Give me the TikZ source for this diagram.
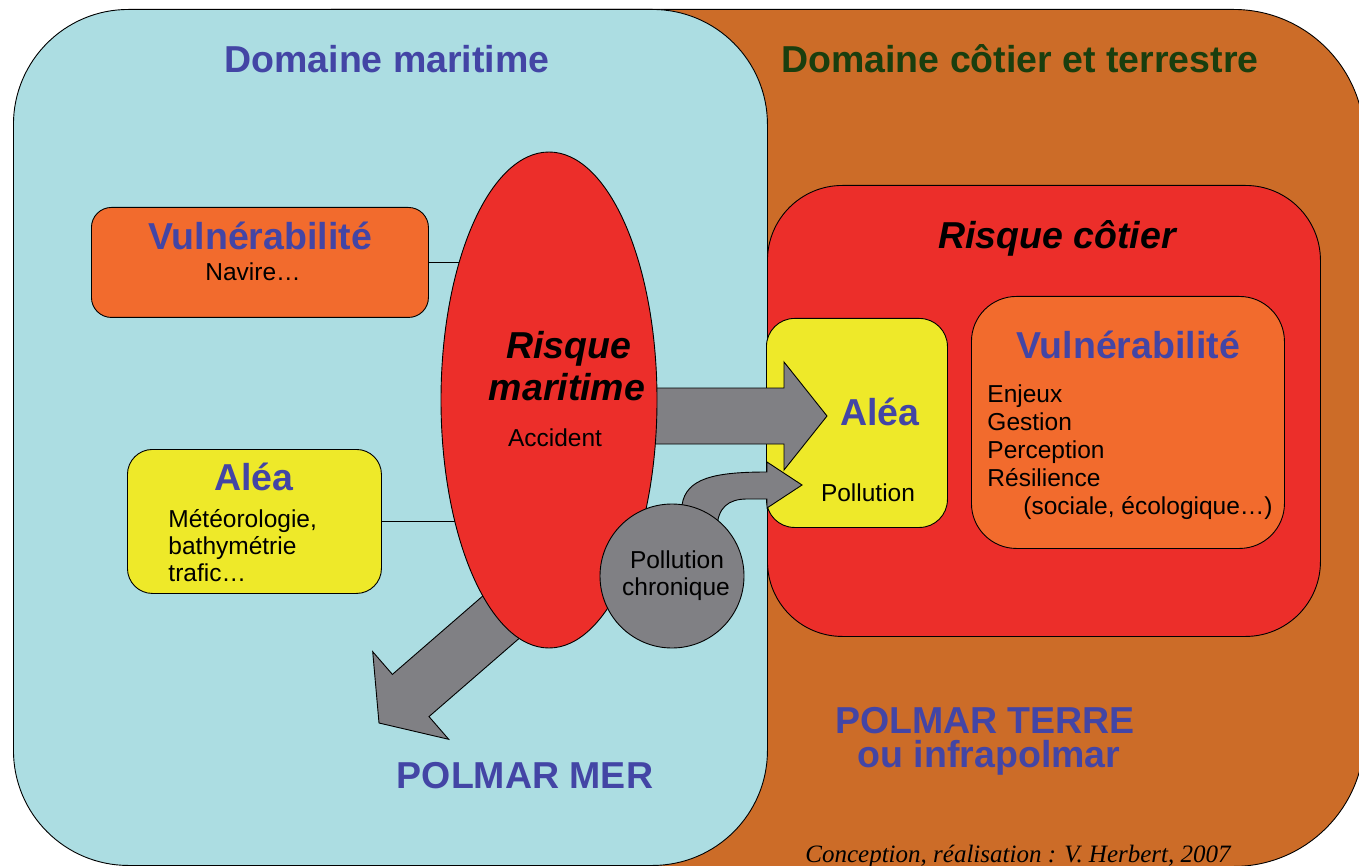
\documentclass[tikz,border=0pt]{standalone}
\usepackage{fontspec}
\setmainfont{Liberation Sans}
\newfontfamily\serifit{Liberation Serif}
\usetikzlibrary{shapes.geometric}
\definecolor{seablue}{HTML}{ACDDE2}
\definecolor{landorange}{HTML}{CC6C28}
\definecolor{riskred}{HTML}{EC2E2A}
\definecolor{boxorange}{HTML}{F26B2D}
\definecolor{hazyellow}{HTML}{EEE929}
\definecolor{arrowgray}{HTML}{808084}
\definecolor{titleblue}{HTML}{4345A5}
\definecolor{titlegreen}{HTML}{1A3E0E}
\begin{document}
\begin{tikzpicture}[x=1pt,y=-1pt,line width=0.9pt,
  panel/.style={draw=black,rectangle,inner sep=0pt,anchor=north west},
  title/.style={font=\fontsize{37.5}{40}\selectfont\bfseries,text=titleblue,inner sep=0pt,anchor=base},
  risk/.style={font=\fontsize{37.5}{40}\selectfont\bfseries\itshape,text=black,inner sep=0pt,anchor=base},
  body/.style={font=\fontsize{24.5}{27}\selectfont,text=black,inner sep=0pt,anchor=base},
  bodyl/.style={body,anchor=base west},
  bigarrow/.style={draw=black,fill=arrowgray,line width=0.9pt,line join=miter}]
\useasboundingbox (0,0) rectangle (1359,866);
% domains
\node[panel,fill=landorange,rounded corners=131pt,minimum width=1164pt,minimum height=857pt] (land) at (200,9) {};
\node[panel,fill=seablue,rounded corners=115pt,minimum width=754pt,minimum height=856pt] (sea) at (13,9) {};
\node[title] (tsea) at (387,73) {Domaine maritime};
\node[title,text=titlegreen] (tland) at (1020,73) {Domaine côtier et terrestre};
% coastal risk
\node[panel,fill=riskred,rounded corners=75pt,minimum width=553pt,minimum height=451pt] (rc) at (767,185) {};
\node[risk] (trc) at (1057,249) {Risque côtier};
\node[panel,fill=hazyellow,rounded corners=28pt,minimum width=181pt,minimum height=209pt] (aleaR) at (766,318) {};
\node[panel,fill=boxorange,rounded corners=45pt,minimum width=313pt,minimum height=252pt] (vulnR) at (971,296) {};
\node[title] (tvulnR) at (1128,358) {Vulnérabilité};
\node[bodyl] (v1) at (987,402) {Enjeux};
\node[bodyl] (v2) at (987,430) {Gestion};
\node[bodyl] (v3) at (987,458) {Perception};
\node[bodyl] (v4) at (987,486) {Résilience};
\node[bodyl] (v5) at (1023,514) {(sociale, écologique…)};
% arrows
\draw[bigarrow] (620,388) -- (784,388) -- (784,362) -- (827,416) -- (784,470) -- (784,444) -- (620,444) -- cycle;
\draw[bigarrow] (682,530) -- (682,505) .. controls (686,478) and (715,472) .. (767,472) -- (767,462) -- (802,485) -- (767,508) -- (767,499) -- (747,499) .. controls (729,499) and (717,507) .. (717,530) -- cycle;
\draw[bigarrow] (511.7,570.9) -- (392.4,674.4) -- (372.7,651.7) -- (379,723) -- (448.7,739.3) -- (429.0,716.6) -- (548.3,613.1) -- cycle;
\node[title] (taleaR) at (880,425) {Aléa};
\node[body] (tpol) at (868,501) {Pollution};
% maritime risk
\coordinate (rmc) at (549,400);
\node[panel,fill=boxorange,rounded corners=20pt,minimum width=337pt,minimum height=110pt] (vulnL) at (91,207) {};
\node[panel,fill=hazyellow,rounded corners=25pt,minimum width=254pt,minimum height=144pt] (aleaL) at (127,449) {};
\draw (vulnL.east) -- (rmc |- vulnL.east);
\draw (aleaL.east) -- (rmc |- aleaL.east);
\node[draw=black,ellipse,fill=riskred,minimum width=216pt,minimum height=496pt,inner sep=0pt] (rm) at (rmc) {};
\node[risk] (trm1) at (569,358) {Risque};
\node[risk] (trm2) at (567,400) {maritime};
\node[body] (tacc) at (555,446) {Accident};
\node[draw=black,circle,fill=arrowgray,minimum size=144pt,inner sep=0pt] (pc) at (672,576) {};
\node[body] (tpc1) at (677,568) {Pollution};
\node[body] (tpc2) at (676,595) {chronique};
% left boxes texts
\node[title] (tvulnL) at (260,250) {Vulnérabilité};
\node[body] (tnav) at (253,281) {Navire…};
\node[title] (taleaL) at (254,490) {Aléa};
\node[bodyl] (a1) at (168,527) {Météorologie,};
\node[bodyl] (a2) at (168,554) {bathymétrie};
\node[bodyl] (a3) at (168,581) {trafic…};
% bottom labels
\node[title] (pmer) at (525,788) {POLMAR MER};
\node[title] (pterre) at (985,733) {POLMAR TERRE};
\node[title] (pinfra) at (989,767) {ou infrapolmar};
\node[font=\serifit\itshape\fontsize{25}{28}\selectfont,inner sep=0pt,anchor=base] (credit) at (1018,862) {Conception, réalisation : V. Herbert, 2007};
\end{tikzpicture}
\end{document}
